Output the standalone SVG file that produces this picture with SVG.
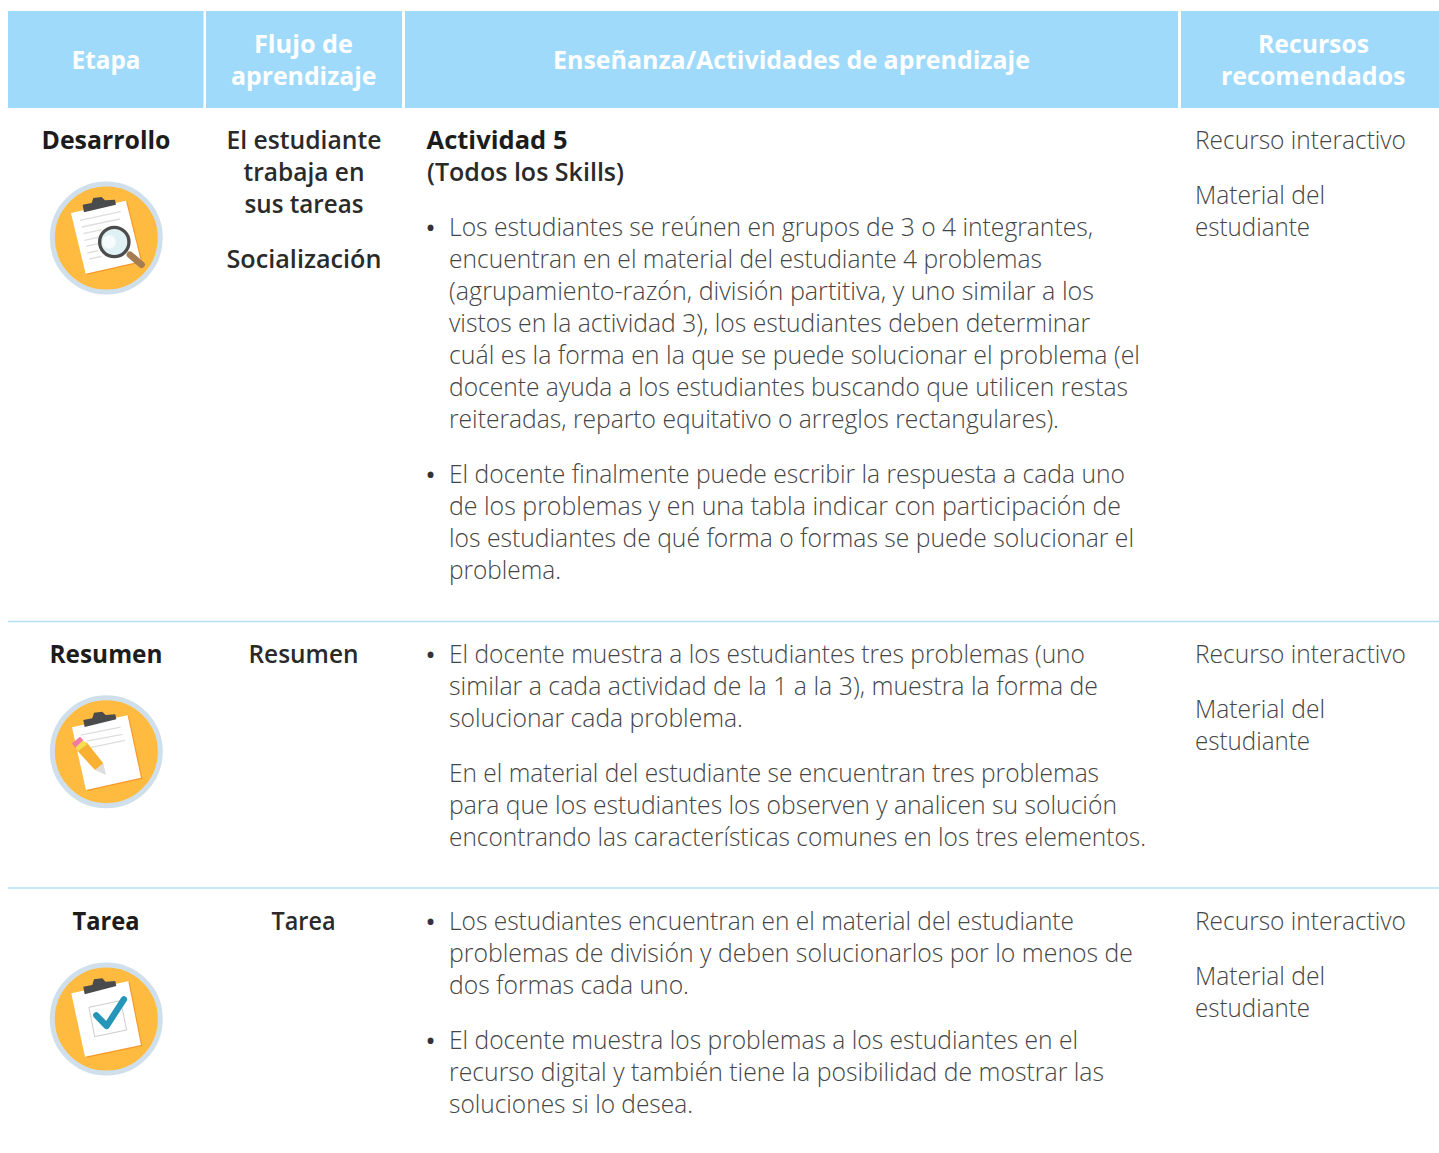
<svg xmlns="http://www.w3.org/2000/svg" width="1439" height="1153" viewBox="0 0 1439 1153">
<style>
text{font-family:"Open Sans","Noto Sans","Liberation Sans",sans-serif;font-size:25px;white-space:pre}
.r{fill:#454545;font-weight:300}
.u{fill:#333;font-weight:600;font-size:24px}
.b{fill:#1c1c1c;font-weight:700}
.s{fill:#2a2a2a;font-weight:600}
.h{fill:#fff;font-weight:700}
.hb{fill:#9fdafb}
.rule{stroke:#b5e0f5;stroke-width:1.5}
.ring{fill:#ffbb3f;stroke:#cfe0ec;stroke-width:15}
.paper{fill:#fff}
.shadow{fill:#f7982a}
.clip{fill:#4a4b4d}
.ln{stroke:#dedede;stroke-width:4;fill:none}
</style>
<defs>
<circle id="disc" class="ring" cx="229" cy="205" r="162"/>
</defs>
<g id="header">
<rect class="hb" x="8" y="11" width="195.500" height="97"/>
<rect class="hb" x="206" y="11" width="196" height="97"/>
<rect class="hb" x="405" y="11" width="773" height="97"/>
<rect class="hb" x="1181" y="11" width="258" height="97"/>
<text class="h" x="71.500" y="69" textLength="69" lengthAdjust="spacingAndGlyphs">Etapa</text>
<text class="h" x="254" y="53" textLength="99" lengthAdjust="spacingAndGlyphs">Flujo de</text>
<text class="h" x="231" y="85" textLength="145.500" lengthAdjust="spacingAndGlyphs">aprendizaje</text>
<text class="h" x="553" y="69" textLength="477" lengthAdjust="spacingAndGlyphs">Enseñanza/Actividades de aprendizaje</text>
<text class="h" x="1258" y="53" textLength="111" lengthAdjust="spacingAndGlyphs">Recursos</text>
<text class="h" x="1221" y="85" textLength="184.500" lengthAdjust="spacingAndGlyphs">recomendados</text>
</g>
<g id="connectors">
<line class="rule" x1="8" y1="621.500" x2="1439" y2="621.500"/>
<line class="rule" x1="8" y1="888" x2="1439" y2="888"/>
</g>
<g id="row-desarrollo">
<text class="b" x="41.500" y="149" textLength="129" lengthAdjust="spacingAndGlyphs">Desarrollo</text>
<g id="icon-desarrollo" transform="translate(106.300 238) scale(.3333) translate(-229 -205)">
<use href="#disc"/>
<polygon class="shadow" points="127,133 292,96 337,278 171,315"/>
<polygon class="paper" points="123,130 288,93 333,275 167,312"/>
<polygon class="clip" points="158,105 185,100 190,85 215,82 225,92 255,90 258,105 162,128"/>
<path class="ln" d="M150 152L272 126M155 172L270 148M160 192L215 180M163 212L205 203M168 230L205 222M172 250L205 243M178 268L215 260"/>
<path d="M300 255L335 285" stroke="#a67c52" stroke-width="20" stroke-linecap="round"/>
<circle cx="253" cy="217" r="44" fill="#dff1f5" stroke="#4c4c4c" stroke-width="10"/>
<circle cx="238" cy="217" r="20" fill="#f6fbfc"/>
</g>
<text class="s" x="226.500" y="149" textLength="155" lengthAdjust="spacingAndGlyphs">El estudiante</text>
<text class="s" x="243.500" y="181" textLength="121" lengthAdjust="spacingAndGlyphs">trabaja en</text>
<text class="s" x="244.500" y="213" textLength="119" lengthAdjust="spacingAndGlyphs">sus tareas</text>
<text class="s" x="226.500" y="268" textLength="155" lengthAdjust="spacingAndGlyphs">Socialización</text>
<text class="b" x="426.500" y="149" textLength="141" lengthAdjust="spacingAndGlyphs">Actividad 5</text>
<text class="s" x="427" y="181" textLength="197" lengthAdjust="spacingAndGlyphs">(Todos los Skills)</text>
<text class="u" x="426" y="236">•</text>
<text class="r" x="449" y="236" textLength="644" lengthAdjust="spacingAndGlyphs">Los estudiantes se reúnen en grupos de 3 o 4 integrantes,</text>
<text class="r" x="449" y="268" textLength="593" lengthAdjust="spacingAndGlyphs">encuentran en el material del estudiante 4 problemas</text>
<text class="r" x="449" y="300" textLength="645" lengthAdjust="spacingAndGlyphs">(agrupamiento-razón, división partitiva, y uno similar a los</text>
<text class="r" x="449" y="332" textLength="641" lengthAdjust="spacingAndGlyphs">vistos en la actividad 3), los estudiantes deben determinar</text>
<text class="r" x="449" y="364" textLength="691" lengthAdjust="spacingAndGlyphs">cuál es la forma en la que se puede solucionar el problema (el</text>
<text class="r" x="449" y="396" textLength="679" lengthAdjust="spacingAndGlyphs">docente ayuda a los estudiantes buscando que utilicen restas</text>
<text class="r" x="449" y="428" textLength="610" lengthAdjust="spacingAndGlyphs">reiteradas, reparto equitativo o arreglos rectangulares).</text>
<text class="u" x="426" y="483">•</text>
<text class="r" x="449" y="483" textLength="676" lengthAdjust="spacingAndGlyphs">El docente finalmente puede escribir la respuesta a cada uno</text>
<text class="r" x="449" y="515" textLength="672" lengthAdjust="spacingAndGlyphs">de los problemas y en una tabla indicar con participación de</text>
<text class="r" x="449" y="547" textLength="685" lengthAdjust="spacingAndGlyphs">los estudiantes de qué forma o formas se puede solucionar el</text>
<text class="r" x="449" y="579" textLength="112" lengthAdjust="spacingAndGlyphs">problema.</text>
<text class="r" x="1195" y="149" textLength="211" lengthAdjust="spacingAndGlyphs">Recurso interactivo</text>
<text class="r" x="1195" y="204" textLength="130" lengthAdjust="spacingAndGlyphs">Material del</text>
<text class="r" x="1195" y="236" textLength="115" lengthAdjust="spacingAndGlyphs">estudiante</text>
</g>
<g id="row-resumen">
<text class="b" x="49.500" y="663" textLength="113" lengthAdjust="spacingAndGlyphs">Resumen</text>
<g id="icon-resumen" transform="translate(106.300 751.700) scale(.3333) translate(-229 -200)">
<circle class="ring" cx="229" cy="200" r="162"/>
<polygon class="shadow" points="130,130 297,94 337,281 172,318"/>
<polygon class="paper" points="126,127 293,91 333,278 168,315"/>
<polygon class="clip" points="160,105 187,100 192,83 217,80 227,90 256,88 259,103 164,126"/>
<path class="ln" d="M152 150L272 126M170 168L278 148M180 188L285 166"/>
<polygon fill="#dddddd" points="195,255 220,235 228,270"/>
<polygon fill="#f8b133" points="140,195 170,172 220,235 195,255"/>
<polygon fill="#f6dc4f" points="135,182 158,165 172,178 145,198"/>
<polygon fill="#f07aa0" points="126,175 150,155 160,165 136,188"/>
</g>
<text class="s" x="248.500" y="663" textLength="110" lengthAdjust="spacingAndGlyphs">Resumen</text>
<text class="u" x="426" y="663">•</text>
<text class="r" x="449" y="663" textLength="636" lengthAdjust="spacingAndGlyphs">El docente muestra a los estudiantes tres problemas (uno</text>
<text class="r" x="449" y="695" textLength="649" lengthAdjust="spacingAndGlyphs">similar a cada actividad de la 1 a la 3), muestra la forma de</text>
<text class="r" x="449" y="727" textLength="294" lengthAdjust="spacingAndGlyphs">solucionar cada problema.</text>
<text class="r" x="449" y="782" textLength="650" lengthAdjust="spacingAndGlyphs">En el material del estudiante se encuentran tres problemas</text>
<text class="r" x="449" y="814" textLength="668" lengthAdjust="spacingAndGlyphs">para que los estudiantes los observen y analicen su solución</text>
<text class="r" x="449" y="846" textLength="697" lengthAdjust="spacingAndGlyphs">encontrando las características comunes en los tres elementos.</text>
<text class="r" x="1195" y="663" textLength="211" lengthAdjust="spacingAndGlyphs">Recurso interactivo</text>
<text class="r" x="1195" y="718" textLength="130" lengthAdjust="spacingAndGlyphs">Material del</text>
<text class="r" x="1195" y="750" textLength="115" lengthAdjust="spacingAndGlyphs">estudiante</text>
</g>
<g id="row-tarea">
<text class="b" x="72.500" y="930" textLength="67" lengthAdjust="spacingAndGlyphs">Tarea</text>
<g id="icon-tarea" transform="translate(106.300 1019) scale(.3333) translate(-229 -207)">
<circle class="ring" cx="229" cy="207" r="162"/>
<polygon class="shadow" points="128,133 299,97 337,288 169,323"/>
<polygon class="paper" points="124,130 295,94 333,285 165,320"/>
<polygon class="clip" points="160,110 187,105 192,88 217,85 227,95 256,93 259,108 164,133"/>
<polygon points="177,172 272,152 290,240 194,260" fill="none" stroke="#cccccc" stroke-width="3"/>
<path d="M199 196L230 228L282 148" fill="none" stroke="#2596b8" stroke-width="19" stroke-linecap="round" stroke-linejoin="round"/>
</g>
<text class="s" x="271.500" y="930" textLength="64" lengthAdjust="spacingAndGlyphs">Tarea</text>
<text class="u" x="426" y="930">•</text>
<text class="r" x="449" y="930" textLength="625" lengthAdjust="spacingAndGlyphs">Los estudiantes encuentran en el material del estudiante</text>
<text class="r" x="449" y="962" textLength="684" lengthAdjust="spacingAndGlyphs">problemas de división y deben solucionarlos por lo menos de</text>
<text class="r" x="449" y="994" textLength="240" lengthAdjust="spacingAndGlyphs">dos formas cada uno.</text>
<text class="u" x="426" y="1049">•</text>
<text class="r" x="449" y="1049" textLength="629" lengthAdjust="spacingAndGlyphs">El docente muestra los problemas a los estudiantes en el</text>
<text class="r" x="449" y="1081" textLength="655" lengthAdjust="spacingAndGlyphs">recurso digital y también tiene la posibilidad de mostrar las</text>
<text class="r" x="449" y="1113" textLength="244" lengthAdjust="spacingAndGlyphs">soluciones si lo desea.</text>
<text class="r" x="1195" y="930" textLength="211" lengthAdjust="spacingAndGlyphs">Recurso interactivo</text>
<text class="r" x="1195" y="985" textLength="130" lengthAdjust="spacingAndGlyphs">Material del</text>
<text class="r" x="1195" y="1017" textLength="115" lengthAdjust="spacingAndGlyphs">estudiante</text>
</g>
</svg>
